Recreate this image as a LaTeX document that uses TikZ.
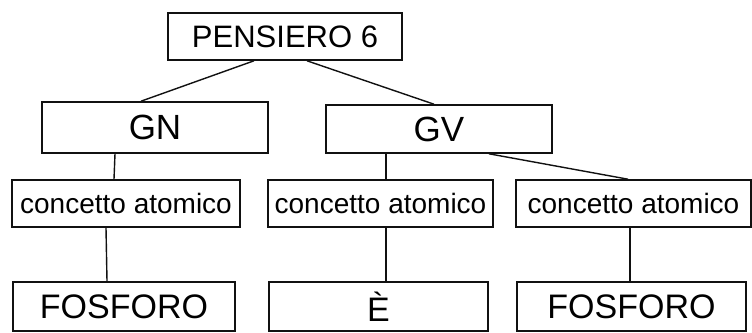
\documentclass[tikz,border=0pt]{standalone}
\usepackage{fontspec}
\setmainfont{Liberation Sans}
\usepackage{tikz}
\usetikzlibrary{positioning}
\definecolor{ink}{HTML}{111111}

\begin{document}
\begin{tikzpicture}[x=1pt,y=-1pt,
    box/.style={draw=ink,line width=1.6pt,minimum height=47pt,inner sep=0pt},
    link/.style={draw=ink,line width=1.4pt}]
        \useasboundingbox (0,0) rectangle (752,332);
        % root and the two phrase groups
        \node[box,minimum width=234pt,font=\fontsize{31}{34}\selectfont] (pens) at (285,36.5) {PENSIERO 6};
        \node[box,minimum width=226pt,minimum height=51pt,font=\fontsize{35}{38}\selectfont] (gn) at (155,127.5) {GN};
        \node[box,minimum width=226pt,minimum height=48pt,font=\fontsize{35}{38}\selectfont] (gv) at (439,129) {GV};
        % atomic concepts and their words
        \foreach \n/\x/\w/\word in {a/126/228/FOSFORO,b/380.5/225/È,c/633.5/235/FOSFORO}{
          \node[box,minimum width=\w pt,font=\fontsize{28}{31}\selectfont] (conc\n) at (\x,203.5) {concetto atomico};
          \node[box,minimum width=\w pt-6pt,minimum height=49pt,font=\fontsize{34}{38}\selectfont] (word\n) at (\x-2,306.5) {\word};}
        \draw[link] ([xshift=-31pt]pens.south) -- ([xshift=-14pt]gn.north);
        \draw[link] ([xshift=22pt]pens.south) -- ([xshift=-5pt]gv.north);
        \draw[link] ([xshift=-40pt]gn.south) -- ([xshift=-12pt]conca.north);
        \draw[link] ([xshift=-53pt]gv.south) -- ([xshift=5.5pt]concb.north);
        \draw[link] ([xshift=50pt]gv.south) -- ([xshift=-5.5pt]concc.north);
        \draw[link] ([xshift=-20pt]conca.south) -- ([xshift=-17pt]worda.north);
        \draw[link] ([xshift=5.5pt]concb.south) -- ([xshift=7.5pt]wordb.north);
        \draw[link] ([xshift=-3.5pt]concc.south) -- ([xshift=-1.5pt]wordc.north);
      \end{tikzpicture}
\end{document}
